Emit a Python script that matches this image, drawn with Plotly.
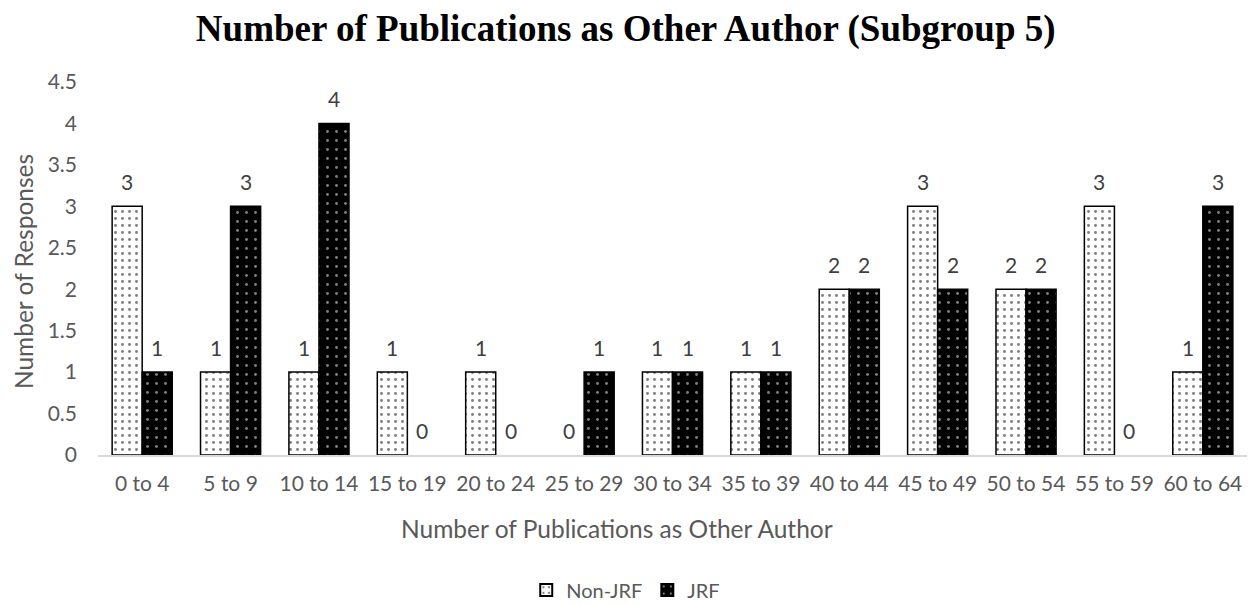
import plotly.graph_objects as go

# Publication-count bins and response counts per group
categories = ["0 to 4", "5 to 9", "10 to 14", "15 to 19", "20 to 24", "25 to 29",
              "30 to 34", "35 to 39", "40 to 44", "45 to 49", "50 to 54", "55 to 59",
              "60 to 64"]
non_jrf = [3, 1, 1, 1, 1, 0, 1, 1, 2, 3, 2, 3, 1]
jrf = [1, 3, 4, 0, 0, 1, 1, 1, 2, 2, 2, 0, 3]

y_ticks = [0, 0.5, 1, 1.5, 2, 2.5, 3, 3.5, 4, 4.5]

FONT = "Lato, 'Open Sans', sans-serif"
TICK_GREY = "#595959"
LABEL_GREY = "#404040"
BAR_W = 0.34

xs = list(range(len(categories)))


def outline(values):
    # no outline on empty bars, so they leave no stroke on the baseline
    return [1.5 if v > 0 else 0 for v in values]


fig = go.Figure()
fig.add_trace(go.Bar(
    name="Non-JRF", x=xs, y=non_jrf, width=BAR_W, offset=-BAR_W,
    marker=dict(color="white",
                line=dict(color="black", width=outline(non_jrf)),
                pattern=dict(shape=".", fgcolor="black", bgcolor="white",
                             size=7, solidity=0.14)),
))
fig.add_trace(go.Bar(
    name="JRF", x=xs, y=jrf, width=BAR_W, offset=0,
    marker=dict(color="black",
                line=dict(color="black", width=outline(jrf)),
                pattern=dict(shape=".", fgcolor="white", bgcolor="black",
                             size=9, solidity=0.08)),
))

# value labels above each bar
annotations = []
for i, (a, b) in enumerate(zip(non_jrf, jrf)):
    for xv, v in ((i - BAR_W / 2, a), (i + BAR_W / 2, b)):
        annotations.append(dict(
            x=xv, y=v, xref="x", yref="y", text=str(v), showarrow=False,
            yshift=25, yanchor="middle",
            font=dict(family=FONT, size=21, color=LABEL_GREY)))

# axis titles
annotations.append(dict(
    text="Number of Publications as Other Author", xref="paper", yref="paper",
    x=0.4517, y=-0.196, xanchor="center", yanchor="middle", showarrow=False,
    font=dict(family=FONT, size=24.5, color=TICK_GREY)))
annotations.append(dict(
    text="Number of Responses", xref="paper", yref="paper",
    x=-0.0653, y=0.493, xanchor="center", yanchor="middle", textangle=-90,
    showarrow=False, font=dict(family=FONT, size=24.5, color=TICK_GREY)))

fig.update_layout(
    width=1259, height=605,
    margin=dict(l=98, r=12, t=82, b=150),
    paper_bgcolor="white", plot_bgcolor="white",
    barmode="overlay",
    title=dict(text="<b>Number of Publications as Other Author (Subgroup 5)</b>",
               x=0.497, xref="container", xanchor="center",
               y=1 - 28 / 605, yref="container", yanchor="middle",
               font=dict(family="'Liberation Serif', 'Times New Roman', serif",
                         size=37, color="black")),
    xaxis=dict(range=[-0.5, len(categories) - 0.5], tickvals=xs, ticktext=categories,
               showline=True, linecolor="#d9d9d9", linewidth=1.5,
               showgrid=False, zeroline=False, ticks="", ticklabelstandoff=9,
               tickfont=dict(family=FONT, size=21, color=TICK_GREY)),
    yaxis=dict(range=[0, 4.5], tickvals=y_ticks, showline=False, showgrid=False,
               zeroline=False, ticks="", ticklabelstandoff=20,
               tickfont=dict(family=FONT, size=21, color=TICK_GREY)),
    legend=dict(orientation="h", xref="container", yref="container",
                x=0.497, y=1 - 590 / 605, xanchor="center", yanchor="middle",
                font=dict(family=FONT, size=20, color=TICK_GREY),
                itemsizing="constant"),
    annotations=annotations,
)

fig.write_html("out.html")
